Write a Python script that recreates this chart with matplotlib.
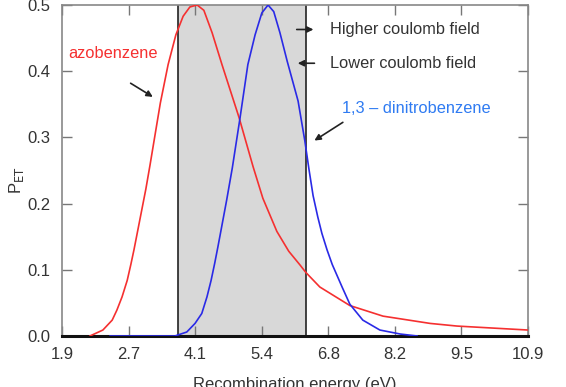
import matplotlib
matplotlib.use("Agg")
import matplotlib.pyplot as plt
import numpy as np

plt.rcParams['font.family'] = ['Liberation Sans', 'DejaVu Sans']

# x tick labels (evenly spaced on the axis, from 1.9 to 10.9 eV)
x_tick_labels = ["1.9", "2.7", "4.1", "5.4", "6.8", "8.2", "9.5", "10.9"]
y_ticks = [0.0, 0.1, 0.2, 0.3, 0.4, 0.5]

# azobenzene curve (energy eV, P_ET)
azo_x = [2.44, 2.69, 2.87, 2.96, 3.06, 3.16, 3.23, 3.29, 3.36, 3.44, 3.52, 3.60,
         3.70, 3.80, 3.95, 4.10, 4.24, 4.37, 4.51, 4.64, 4.80, 4.99, 5.32,
         5.59, 5.78, 6.05, 6.28, 6.50, 6.61, 6.88, 7.46, 8.10, 9.01, 9.53, 10.9]
azo_y = [0.0, 0.009, 0.024, 0.039, 0.059, 0.084, 0.108, 0.130, 0.158, 0.190,
         0.222, 0.258, 0.305, 0.352, 0.410, 0.455, 0.483, 0.497, 0.500, 0.492,
         0.458, 0.410, 0.330, 0.256, 0.208, 0.158, 0.128, 0.107, 0.096, 0.074,
         0.046, 0.030, 0.019, 0.015, 0.009]

# 1,3-dinitrobenzene curve
dnb_x = [2.83, 4.08, 4.31, 4.47, 4.60, 4.70, 4.78, 4.85, 4.91, 4.97, 5.08,
         5.19, 5.34, 5.49, 5.63, 5.76, 5.88, 5.99, 6.11, 6.25, 6.46, 6.59,
         6.67, 6.75, 6.84, 6.92, 7.02, 7.12, 7.31, 7.46, 7.71, 8.04, 8.43, 8.76]
dnb_y = [0.0, 0.0, 0.006, 0.019, 0.034, 0.059, 0.084, 0.110, 0.134, 0.159,
         0.205, 0.254, 0.330, 0.410, 0.455, 0.488, 0.500, 0.490, 0.458, 0.415,
         0.355, 0.295, 0.252, 0.212, 0.180, 0.155, 0.130, 0.108, 0.074, 0.048,
         0.024, 0.009, 0.003, 0.0]

# shaded range (eV)
shade_lo, shade_hi = 4.14, 6.61

x_min, x_max = 1.9, 10.9

fig = plt.figure(figsize=(5.66, 3.87), dpi=100)
ax = fig.add_axes([0.1095, 0.1318, 0.8233, 0.8553])

ax.axvspan(shade_lo, shade_hi, ymin=0, ymax=1, facecolor='#d8d8d8',
           edgecolor='none', zorder=0)
ax.axvline(shade_lo, color='#222222', lw=1.2, zorder=1)
ax.axvline(shade_hi, color='#222222', lw=1.2, zorder=1)

ax.plot(azo_x, azo_y, color='#f53030', lw=1.2, zorder=3,
        solid_joinstyle='round')
ax.plot(dnb_x, dnb_y, color='#2a2ae6', lw=1.2, zorder=3,
        solid_joinstyle='round')

ax.set_xlim(x_min, x_max)
ax.set_ylim(0, 0.5)
ax.set_xticks(np.linspace(x_min, x_max, len(x_tick_labels)))
ax.set_xticklabels(x_tick_labels)
ax.set_yticks(y_ticks)
ax.set_yticklabels([f"{v:.1f}" for v in y_ticks])

ax.tick_params(direction='in', length=7, width=1, color='#777777',
               labelsize=12, labelcolor='#333333', top=True, right=True,
               pad=8)
for side in ['left', 'top', 'right']:
    ax.spines[side].set_color('#888888')
    ax.spines[side].set_linewidth(1.2)
ax.spines['bottom'].set_color('#111111')
ax.spines['bottom'].set_linewidth(2.2)

ax.set_ylabel(r"P$_{\mathrm{ET}}$", fontsize=12, color='#333333', va='center')
ax.yaxis.set_label_coords(-0.098, 0.47)
ax.set_xlabel("Recombination energy (eV)", fontsize=12, color='#333333',
              labelpad=11)

fs = 11.8
ax.text(2.02, 0.427, "azobenzene", color='#f53030', fontsize=fs, va='center')
ax.annotate("", xy=(3.70, 0.359), xytext=(3.18, 0.384),
            arrowprops=dict(arrowstyle='-|>', color='#222222', lw=1.2,
                            mutation_scale=9))

ax.text(7.08, 0.463, "Higher coulomb field", color='#333333', fontsize=fs,
        va='center')
ax.annotate("", xy=(6.81, 0.463), xytext=(6.38, 0.463),
            arrowprops=dict(arrowstyle='-|>', color='#222222', lw=1.2,
                            mutation_scale=9))
ax.text(7.08, 0.412, "Lower coulomb field", color='#333333', fontsize=fs,
        va='center')
ax.annotate("", xy=(6.40, 0.412), xytext=(6.83, 0.412),
            arrowprops=dict(arrowstyle='-|>', color='#222222', lw=1.2,
                            mutation_scale=9))

ax.text(7.31, 0.344, "1,3 \u2013 dinitrobenzene", color='#2f7bf2', fontsize=fs,
        va='center')
ax.annotate("", xy=(6.73, 0.293), xytext=(7.37, 0.325),
            arrowprops=dict(arrowstyle='-|>', color='#222222', lw=1.2,
                            mutation_scale=9))

fig.savefig("out.png", dpi=100)
